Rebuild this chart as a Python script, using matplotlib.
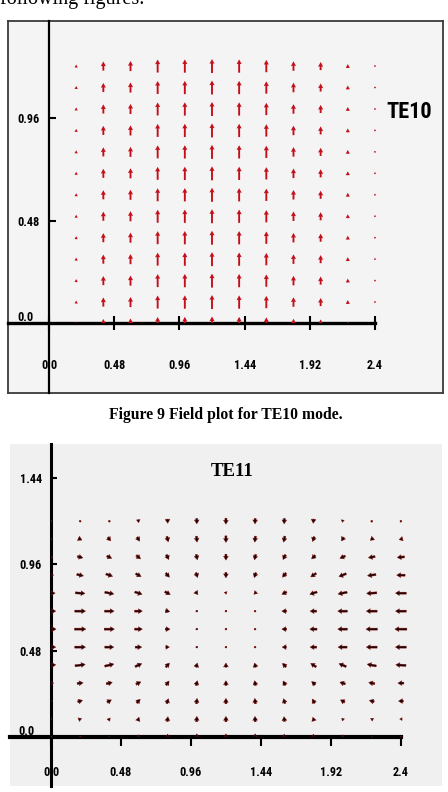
import matplotlib
matplotlib.use("Agg")
import matplotlib.pyplot as plt
import numpy as np
from matplotlib.patches import Rectangle
from matplotlib import font_manager

W, H, DPI = 448, 792, 100

# ---------------- data ----------------
axis_ticks = [0.0, 0.48, 0.96, 1.44, 1.92, 2.4]
axis_tick_labels = ["0.0", "0.48", "0.96", "1.44", "1.92", "2.4"]
te10_yticks = [0.48, 0.96]
te10_ytick_labels = ["0.48", "0.96"]
te11_yticks = [0.48, 0.96, 1.44]
te11_ytick_labels = ["0.48", "0.96", "1.44"]

# TE10: vertical field, same in every row, magnitude read per column
te10_cols_x = [0.2, 0.4, 0.6, 0.8, 1.0, 1.2, 1.4, 1.6, 1.8, 2.0, 2.2, 2.4]
te10_rows_y = [0.0, 0.1, 0.2, 0.3, 0.4, 0.5, 0.6, 0.7, 0.8, 0.9, 1.0, 1.1, 1.2]
te10_magnitude = [0.22, 0.65, 0.72, 0.93, 0.95, 1.0, 0.95, 0.88, 0.68, 0.58, 0.28, 0.08]

# TE11: rows listed from top (y = 1.2) to bottom (y = 0.0)
te11_cols_x = [0.0, 0.2, 0.4, 0.6, 0.8, 1.0, 1.2, 1.4, 1.6, 1.8, 2.0, 2.2, 2.4]
te11_rows_y = [1.2, 1.1, 1.0, 0.9, 0.8, 0.7, 0.6, 0.5, 0.4, 0.3, 0.2, 0.1, 0.0]
te11_u = [
    [0.00, 0.05, 0.04, 0.03, 0.02, 0.01, 0.00, -0.01, -0.02, -0.03, -0.04, -0.05, -0.05],
    [0.10, 0.30, 0.25, 0.20, 0.12, 0.05, 0.00, -0.05, -0.10, -0.15, -0.20, -0.25, -0.30],
    [0.30, 0.45, 0.40, 0.35, 0.20, 0.10, 0.00, -0.10, -0.20, -0.30, -0.45, -0.55, -0.60],
    [0.45, 0.55, 0.55, 0.45, 0.30, 0.15, 0.00, -0.15, -0.30, -0.45, -0.60, -0.70, -0.70],
    [0.70, 0.80, 0.75, 0.60, 0.45, 0.20, 0.05, -0.20, -0.40, -0.60, -0.75, -0.85, -0.90],
    [0.80, 0.90, 0.80, 0.65, 0.35, 0.15, 0.05, -0.10, -0.40, -0.55, -0.80, -0.90, -0.90],
    [0.85, 0.95, 0.85, 0.65, 0.40, 0.15, 0.05, -0.10, -0.40, -0.60, -0.80, -0.95, -1.00],
    [0.80, 0.90, 0.75, 0.55, 0.30, 0.10, 0.05, -0.10, -0.35, -0.55, -0.75, -0.90, -0.90],
    [0.80, 0.85, 0.75, 0.55, 0.30, 0.10, 0.00, -0.10, -0.30, -0.45, -0.60, -0.75, -0.85],
    [0.45, 0.50, 0.50, 0.40, 0.25, 0.10, 0.00, -0.08, -0.20, -0.30, -0.45, -0.50, -0.50],
    [0.25, 0.40, 0.35, 0.30, 0.15, 0.05, 0.00, -0.05, -0.12, -0.20, -0.35, -0.40, -0.40],
    [0.05, 0.25, 0.15, 0.10, 0.05, 0.02, 0.00, -0.02, -0.05, -0.10, -0.15, -0.20, -0.20],
    [0.00, 0.00, 0.00, 0.00, 0.00, 0.00, 0.00, 0.00, 0.00, 0.00, 0.00, 0.00, 0.00],
]
te11_v = [
    [0.00, -0.10, -0.15, -0.25, -0.35, -0.45, -0.50, -0.45, -0.45, -0.35, -0.20, -0.15, -0.10],
    [0.00, -0.15, -0.30, -0.35, -0.45, -0.50, -0.55, -0.50, -0.50, -0.40, -0.30, -0.20, -0.08],
    [-0.05, -0.12, -0.20, -0.30, -0.40, -0.45, -0.50, -0.45, -0.40, -0.30, -0.20, -0.10, -0.05],
    [0.00, -0.12, -0.20, -0.25, -0.35, -0.40, -0.45, -0.40, -0.35, -0.30, -0.25, -0.10, 0.00],
    [0.00, -0.05, -0.15, -0.20, -0.25, -0.25, -0.20, -0.20, -0.20, -0.20, -0.15, -0.05, 0.00],
    [0.00, 0.00, 0.00, 0.00, -0.10, -0.05, 0.00, 0.00, 0.00, 0.00, 0.00, 0.00, 0.00],
    [0.00, 0.00, 0.00, 0.00, 0.00, 0.00, 0.00, 0.00, 0.00, 0.00, 0.00, 0.00, 0.00],
    [0.00, 0.00, 0.00, 0.00, 0.00, 0.00, 0.00, 0.00, 0.00, 0.00, 0.00, 0.00, 0.00],
    [0.05, 0.12, 0.18, 0.25, 0.35, 0.35, 0.35, 0.35, 0.30, 0.30, 0.25, 0.15, 0.05],
    [0.00, 0.05, 0.12, 0.20, 0.35, 0.40, 0.40, 0.40, 0.35, 0.25, 0.15, 0.10, 0.00],
    [0.00, 0.12, 0.20, 0.30, 0.40, 0.45, 0.45, 0.45, 0.40, 0.35, 0.20, 0.10, 0.00],
    [0.00, 0.10, 0.20, 0.30, 0.40, 0.45, 0.45, 0.45, 0.40, 0.30, 0.15, 0.10, 0.00],
    [0.00, 0.00, 0.20, 0.40, 0.50, 0.55, 0.55, 0.55, 0.50, 0.50, 0.40, 0.20, 0.20],
]

# ---------------- fonts ----------------
installed = {f.name for f in font_manager.fontManager.ttflist}
narrow = [n for n in ("Liberation Sans Narrow", "Arial Narrow", "Roboto Condensed",
                      "Open Sans Condensed", "Noto Sans Condensed") if n in installed]
if narrow:
    sans_family = [narrow[0], "Liberation Sans"]
    sans_stretch = "normal"
else:
    sans_family = ["DejaVu Sans"]
    sans_stretch = "condensed"

# ---------------- figure ----------------
fig = plt.figure(figsize=(W / DPI, H / DPI), dpi=DPI)
fig.patch.set_facecolor("white")


def px_axes(x0, y0, x1, y1):
    return fig.add_axes([x0 / W, 1 - y1 / H, (x1 - x0) / W, (y1 - y0) / H])


PX = 0.72  # points per pixel at 100 dpi
tick_font = dict(fontweight="bold", family=sans_family, fontstretch=sans_stretch, fontsize=8.8)


def style_axes(ax, ylw, xlw, xdir, xlen, xpad, ylen, ypad, yticks, ylabels, xlim0):
    ax.patch.set_alpha(0)
    for s in ("top", "right"):
        ax.spines[s].set_visible(False)
    ax.spines["left"].set_position(("data", 0))
    ax.spines["bottom"].set_position(("data", 0))
    ax.spines["left"].set_linewidth(ylw)
    ax.spines["bottom"].set_linewidth(xlw)
    ax.spines["bottom"].set_bounds(xlim0, 2.4)
    ax.set_xticks(axis_ticks, axis_tick_labels, **tick_font)
    ax.set_yticks(yticks, ylabels, **tick_font)
    ax.tick_params(axis="x", direction=xdir, length=xlen, width=1.5, pad=xpad, colors="black")
    ax.tick_params(axis="y", direction="in", length=ylen, width=1.5, pad=ypad, colors="black")


# ---- Panel 1 : TE10 ----
bg1 = px_axes(8, 21, 443, 393)
bg1.set_facecolor("#f4f4f4")
bg1.set_xticks([])
bg1.set_yticks([])
for s in bg1.spines.values():
    s.set_color("#3a3a3a")
    s.set_linewidth(1.3)

ax1 = px_axes(8, 21, 443, 393)
ax1.set_xlim(-0.302, 2.901)
ax1.set_ylim(-0.324, 1.41)
style_axes(ax1, 1.6, 2.4, "inout", 9.5, 20.5, 5, 6.5, te10_yticks, te10_ytick_labels, -0.302)
ax1.annotate("0.0", xy=(0, 0), xytext=(-16 * PX, 2 * PX), textcoords="offset points",
             ha="right", va="baseline", **tick_font)

X1, Y1 = np.meshgrid(te10_cols_x, te10_rows_y)
V1 = np.tile(np.array(te10_magnitude), (len(te10_rows_y), 1))
U1 = np.zeros_like(V1)
q1 = ax1.quiver(X1, Y1, U1, V1, color="#c40f1a", units="dots", width=1.9,
                headwidth=2.7, headlength=2.5, headaxislength=2.3,
                scale_units="dots", scale=1 / 14, pivot="middle", zorder=3)
q1.set_clip_path(Rectangle((-0.3, 0.0), 3.2, 1.41, transform=ax1.transData))

fig.text(409.5 / W, 1 - 111.5 / H, "TE10", ha="center", va="center", fontsize=16,
         fontweight="bold", family=sans_family, fontstretch=sans_stretch)

# ---- caption ----
fig.text(225.5 / W, 1 - 419 / H, "Figure 9 Field plot for TE10 mode.", ha="center",
         va="baseline", fontsize=11.3, fontweight="bold", family=["Liberation Serif"])

# ---- top text (cropped page line) ----
fig.text(0 / W, 1 - 4 / H, "following figures.", ha="left", va="baseline",
         fontsize=14.5, family=["Liberation Serif"])

# ---- Panel 2 : TE11 ----
bg2 = px_axes(10, 444, 442, 786)
bg2.set_facecolor("#f0f0f0")
bg2.set_xticks([])
bg2.set_yticks([])
for s in bg2.spines.values():
    s.set_visible(False)

ax2 = px_axes(10, 444, 442, 786)
ax2.set_xlim(-0.281, 2.682)
ax2.set_ylim(-0.272, 1.629)
style_axes(ax2, 2.2, 3.0, "out", 6.5, 14.5, 4.5, 6.5, te11_yticks, te11_ytick_labels, -0.281)
ax2.annotate("0.0", xy=(0, 0), xytext=(-16 * PX, 2 * PX), textcoords="offset points",
             ha="right", va="baseline", **tick_font)

X2, Y2 = np.meshgrid(te11_cols_x, te11_rows_y)
q2 = ax2.quiver(X2, Y2, np.array(te11_u), np.array(te11_v), color="#1e0202",
                edgecolor="#8a0c0c", linewidth=0.3, units="dots", width=2.0,
                headwidth=2.4, headlength=2.0, headaxislength=1.8,
                scale_units="dots", scale=1 / 12, pivot="middle", zorder=3)
q2.set_clip_path(Rectangle((0.0, 0.0), 2.7, 1.7, transform=ax2.transData))

fig.text(232.5 / W, 1 - 471.5 / H, "TE11", ha="center", va="center", fontsize=13.5,
         fontweight="bold", family=["Liberation Serif"])

fig.savefig("out.png", dpi=DPI)
